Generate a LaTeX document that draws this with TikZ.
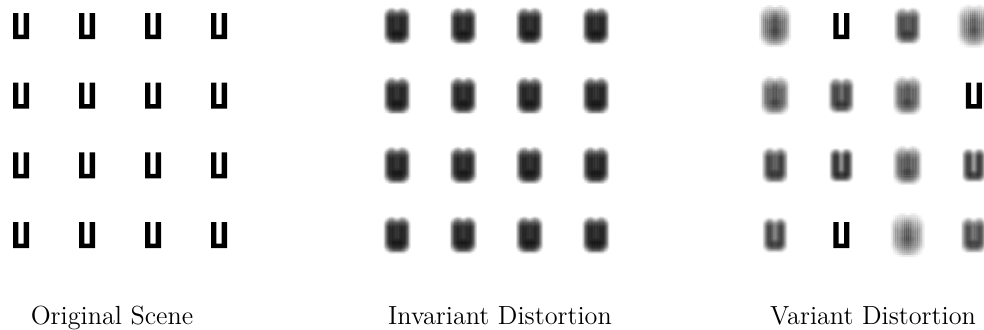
\documentclass[tikz,border=0pt]{standalone}
\usetikzlibrary{positioning}
\tikzset{
  glyph/.style={fill=black},
  caption/.style={font=\fontsize{13.1}{15}\selectfont,anchor=base,inner sep=0pt},
}
% one U test glyph centred at (#1,#2), sharp
\newcommand{\glyphU}[2]{%
  \fill[glyph,shift={(#1,#2)}] (-8,-13) -- (-2.7,-13) -- (-2.7,8.5) -- (2.7,8.5)
    -- (2.7,-13) -- (8,-13) -- (8,13) -- (-8,13) -- cycle;}
% blurred U: centre (#1,#2), blur radius #3, opacity of each copy #4
\newcommand{\blurU}[4]{%
  \foreach \dx in {-4,...,4}{
    \foreach \dy in {-4,...,4}{
      \ifnum\numexpr(\dx)*(\dx)+(\dy)*(\dy)\relax<19
        \fill[glyph,fill opacity=#4,shift={(#1+\dx*#3/4,#2+\dy*#3/4)}]
          (-8,-13) -- (-2.7,-13) -- (-2.7,8.5) -- (2.7,8.5)
          -- (2.7,-13) -- (8,-13) -- (8,13) -- (-8,13) -- cycle;
      \fi
    }}}

\begin{document}
\begin{tikzpicture}[x=0.5pt,y=-0.5pt]
  \useasboundingbox (0,0) rectangle (984,329);

  % ---- original scene: all sharp ----
  \foreach \row in {0,...,3}{
    \foreach \col in {0,...,3}{
      \glyphU{21+66*\col}{26+69.7*\row}
    }}

  % ---- invariant distortion: same blur everywhere ----
  \foreach \row in {0,...,3}{
    \foreach \col in {0,...,3}{
      \blurU{397+66.3*\col}{26+69.7*\row}{5.5}{0.055}
    }}

  % ---- variant distortion: blur changes from glyph to glyph ----
  \foreach \col/\row/\r/\a in {0/0/8/0.03, 2/0/5.5/0.035, 3/0/8.5/0.026,
      0/1/6.5/0.033, 1/1/5/0.036, 2/1/6.5/0.033,
      0/2/5/0.036, 1/2/4/0.035, 2/2/6.5/0.033, 3/2/4/0.032,
      0/3/4.5/0.032, 2/3/9/0.026, 3/3/5/0.033}{
    \blurU{775+66.3*\col}{26+69.7*\row}{\r}{\a}
  }
  \foreach \col/\row in {1/0, 3/1, 1/3}{
    \glyphU{775+66.3*\col}{26+69.7*\row}
  }

  % captions
  \node[caption] (orig) at (112,324) {Original Scene};
  \node[caption] (inv)  at (500,324) {Invariant Distortion};
  \node[caption] (var)  at (873,324) {Variant Distortion};
\end{tikzpicture}
\end{document}
